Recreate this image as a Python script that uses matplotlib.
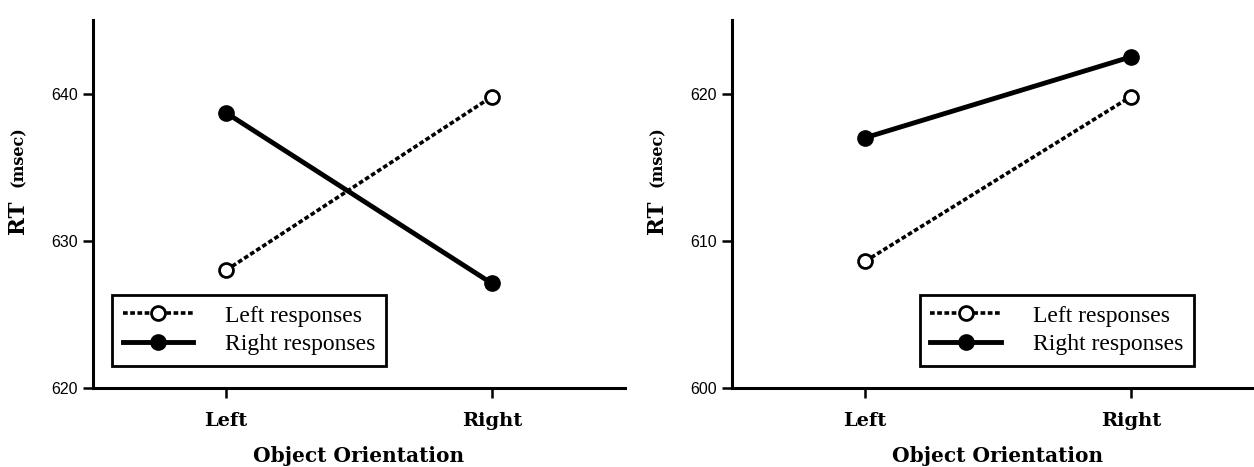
import matplotlib
matplotlib.use("Agg")
import matplotlib.pyplot as plt

orientations = ["Left", "Right"]
left_resp_p1 = [628.0, 639.8]
right_resp_p1 = [638.7, 627.1]
left_resp_p2 = [608.6, 619.8]
right_resp_p2 = [617.0, 622.5]
yticks_p1 = [620, 630, 640]
yticks_p2 = [600, 610, 620]
series_labels = ["Left responses", "Right responses"]

fig = plt.figure(figsize=(12.54, 4.67), dpi=100)
ax1 = fig.add_axes([0.0742, 0.1692, 0.4242, 0.7878])
ax2 = fig.add_axes([0.5837, 0.1692, 0.4242, 0.7878])

serif = ["Liberation Serif", "DejaVu Serif"]
bserif = ["DejaVu Serif"]
sans = ["Liberation Sans", "DejaVu Sans"]

def draw(ax, lv, rv, yt, legx):
    x = list(range(len(orientations)))
    ax.plot(x, lv, linestyle=(0, (1.3, 0.7)), color="black", lw=2.6,
            marker="o", markersize=10, markerfacecolor="white",
            markeredgecolor="black", markeredgewidth=2.0, label=series_labels[0])
    ax.plot(x, rv, linestyle="-", color="black", lw=3.5,
            marker="o", markersize=11, markerfacecolor="black",
            markeredgecolor="black", label=series_labels[1])
    ax.set_xlim(-0.5, 1.5)
    ax.set_ylim(yt[0], yt[0] + 25)
    ax.set_yticks(yt)
    ax.set_yticklabels([str(v) for v in yt], fontfamily=sans, fontsize=11.5)
    ax.set_xticks(x)
    ax.set_xticklabels(orientations, fontfamily=bserif, fontweight="bold", fontsize=14)
    for s in ["top", "right"]:
        ax.spines[s].set_visible(False)
    for s in ["left", "bottom"]:
        ax.spines[s].set_linewidth(2.2)
    ax.tick_params(axis="both", direction="out", width=1.8, length=7, color="black")
    ax.tick_params(axis="x", pad=10)
    ax.tick_params(axis="y", pad=4)
    ax.set_xlabel("Object Orientation", fontfamily=bserif, fontweight="bold",
                  fontsize=14.5, labelpad=12)
    ax.text(-0.141, 0.465, "RT", transform=ax.transAxes, rotation=90,
            ha="center", va="center", fontfamily=bserif, fontweight="bold",
            fontsize=15.5)
    ax.text(-0.141, 0.628, "(msec)", transform=ax.transAxes, rotation=90,
            ha="center", va="center", fontfamily=bserif, fontweight="bold",
            fontsize=11.5)
    leg = ax.legend(loc="lower left", bbox_to_anchor=(legx, 0.06),
                    borderaxespad=0, fancybox=False, framealpha=1,
                    edgecolor="black", handlelength=3.0, handletextpad=1.35,
                    borderpad=0.45, labelspacing=0.3,
                    prop={"family": serif, "size": 17})
    leg.get_frame().set_linewidth(2.0)

draw(ax1, left_resp_p1, right_resp_p1, yticks_p1, 0.0357)
draw(ax2, left_resp_p2, right_resp_p2, yticks_p2, 0.353)

fig.savefig("out.png", dpi=100)
